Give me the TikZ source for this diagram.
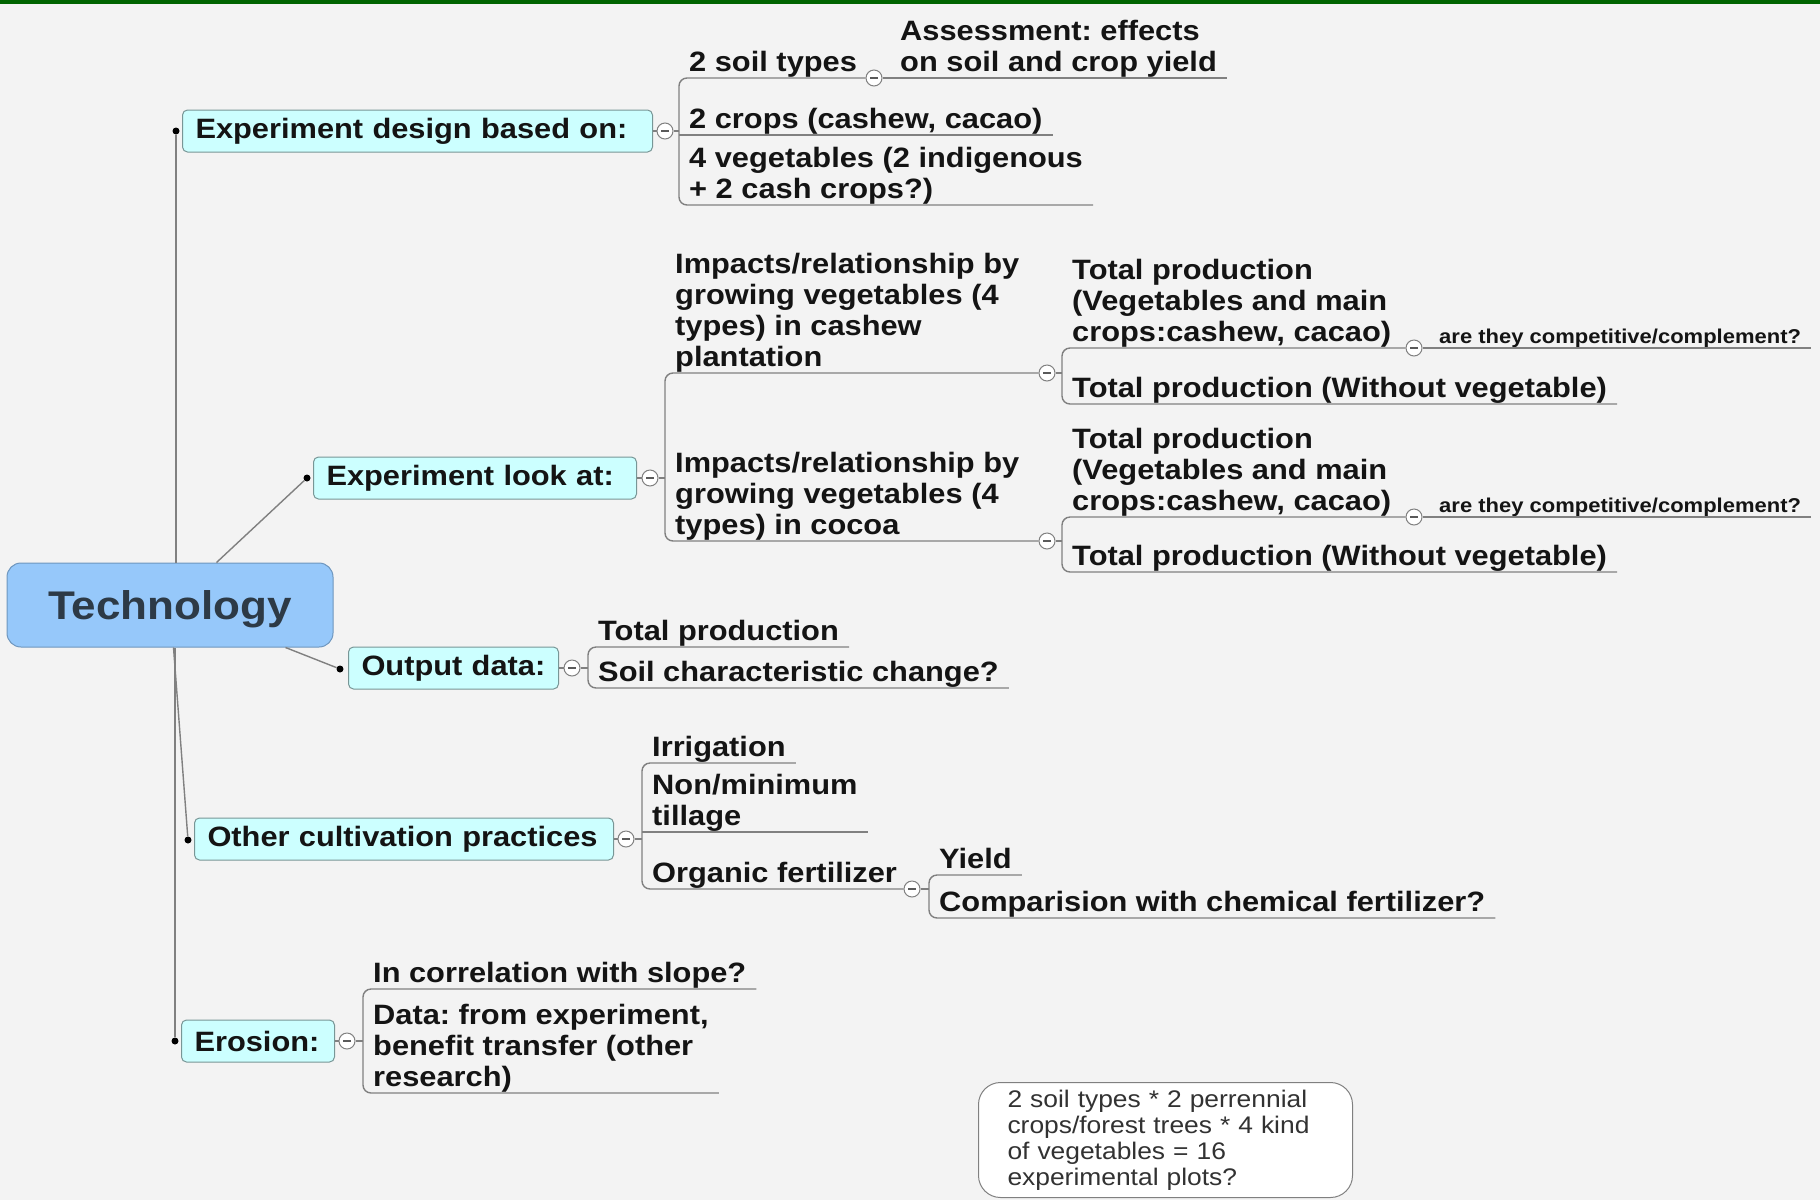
\documentclass[tikz,border=0pt]{standalone}
\usepackage{fontspec}
\setmainfont{Liberation Sans}
\newfontfamily\tfont{Liberation Sans}[FakeStretch=1.1]
\usetikzlibrary{calc}
\frenchspacing
\definecolor{bg}{RGB}{243,243,243}
\definecolor{topgreen}{RGB}{0,100,0}
\definecolor{lgray}{RGB}{128,128,128}
\definecolor{boxfill}{RGB}{204,255,255}
\definecolor{boxline}{RGB}{120,150,150}
\definecolor{rootfill}{RGB}{150,200,250}
\definecolor{rootline}{RGB}{110,150,190}
\definecolor{txt}{RGB}{20,20,20}
\definecolor{roottxt}{RGB}{45,58,70}
\definecolor{notetxt}{RGB}{50,50,50}
\tikzset{
  ln/.style={draw=lgray, line width=1.4pt},
  topic/.style={font=\tfont\bfseries\fontsize{28}{31}\selectfont, text=txt, align=left,
    anchor=south west, inner xsep=10pt, inner ysep=0pt,
    execute at end node={\rule[-6.5pt]{0pt}{6.5pt}}},
  smalltopic/.style={font=\tfont\bfseries\fontsize{20}{22}\selectfont, text=txt, align=left,
    anchor=south west, inner xsep=10pt, inner ysep=0pt,
    execute at end node={\rule[-4.5pt]{0pt}{4.5pt}}},
  mainbox/.style={draw=boxline, fill=boxfill, rounded corners=5pt, line width=1pt,
    anchor=west, minimum height=42pt, inner xsep=13pt, inner ysep=0pt, align=left,
    font=\tfont\bfseries\fontsize{28}{31}\selectfont, text=txt},
  rootbox/.style={draw=rootline, fill=rootfill, rounded corners=14pt, line width=1pt,
    minimum width=326pt, minimum height=84pt, inner sep=0pt,
    font=\tfont\bfseries\fontsize{40}{44}\selectfont, text=roottxt,
    text height=28.6pt, text depth=0pt},
  cbtn/.style={circle, draw=lgray, fill=white, line width=1pt, minimum size=16pt, inner sep=0pt,
    path picture={\draw[line width=1.2pt, lgray!70!black]
      ([xshift=-4pt]path picture bounding box.center) -- ([xshift=4pt]path picture bounding box.center);}},
  dot/.style={circle, fill=black, inner sep=0pt, minimum size=7pt},
  notebox/.style={draw=lgray, fill=white, rounded corners=22pt, line width=1pt,
    anchor=north west, text width=316pt, inner xsep=29pt, inner ysep=0pt,
    minimum height=115pt, align=left,
    font=\tfont\fontsize{24}{26}\selectfont, text=notetxt}
}
\begin{document}
\begin{tikzpicture}[x=1pt,y=-1pt]
\fill[bg] (0,0) rectangle (1820,1200);
\fill[topgreen] (0,0) rectangle (1820,4);

% root
\node[rootbox] (root) at (170,605) {Technology};

% level-1 boxes
\node[mainbox, text width=444pt] (ed) at (182,131) {\mbox{Experiment design based on:}};
\node[mainbox, text width=297pt] (ela) at (313,478) {\mbox{Experiment look at:}};
\node[mainbox, text width=184pt] (od) at (348,668) {\mbox{Output data:}};
\node[mainbox, text width=393pt] (oc) at (194,839) {\mbox{Other cultivation practices}};
\node[mainbox, text width=127pt] (er) at (181,1041) {\mbox{Erosion:}};

% bullets
\node[dot] (b_ed) at (176,131) {};
\node[dot] (b_ela) at (307,478) {};
\node[dot] (b_od) at (340,669) {};
\node[dot] (b_oc) at (188,840) {};
\node[dot] (b_er) at (175,1041) {};

% root connectors
\draw[ln] (b_ed) -- (b_ed |- root.north);
\draw[ln] ($(root.north west)+(210,0)$) -- (b_ela);
\draw[ln] ($(root.south west)+(279,0)$) -- (b_od);
\draw[ln] ($(root.south west)+(167,0)$) -- (b_oc);
\draw[ln] (b_er) -- (b_er |- root.south);

% collapse buttons
\node[cbtn] (c_ed) at (665,131) {};
\node[cbtn] (c_ela) at (650,478) {};
\node[cbtn] (c_od) at (572,668) {};
\node[cbtn] (c_oc) at (626,839) {};
\node[cbtn] (c_er) at (347,1041) {};
\node[cbtn] (c_soil) at (874,78) {};
\node[cbtn] (c_cash) at (1047,373) {};
\node[cbtn] (c_coc) at (1047,541) {};
\node[cbtn] (c_tp1) at (1414,348) {};
\node[cbtn] (c_tp2) at (1414,517) {};
\node[cbtn] (c_org) at (912,889) {};

\draw[ln] (ed.east) -- (c_ed.west);
\draw[ln] (ela.east) -- (c_ela.west);
\draw[ln] (od.east) -- (c_od.west);
\draw[ln] (oc.east) -- (c_oc.west);
\draw[ln] (er.east) -- (c_er.west);

% ---- Experiment design group
\node[topic] (soil) at (679,78) {2 soil types};
\node[topic] (assess) at (890,78) {Assessment: effects\\on soil and crop yield};
\node[topic] (crops) at (679,135) {2 crops (cashew, cacao)};
\node[topic] (veg) at (679,205) {4 vegetables (2 indigenous\\+ 2 cash crops?)};
\draw[ln, rounded corners=8pt] (c_soil.west) -- (soil.south west) -- (veg.south west) -- (veg.south east);
\draw[ln] (crops.south west) -- (crops.south east);
\draw[ln] (c_ed.east) -- (c_ed.east -| crops.south west);
\draw[ln] (c_soil.east) -- (assess.south east);

% ---- Experiment look at group
\node[topic] (cash) at (665,373) {Impacts/relationship by\\growing vegetables (4\\types) in cashew\\plantation};
\node[topic] (coc) at (665,541) {Impacts/relationship by\\growing vegetables (4\\types) in cocoa};
\draw[ln, rounded corners=8pt] (c_cash.west) -- (cash.south west) -- (coc.south west) -- (c_coc.west);
\draw[ln] (c_ela.east) -- (c_ela.east -| cash.south west);

% cashew children
\node[topic] (tp1) at (1062,348) {Total production\\(Vegetables and main\\crops:cashew, cacao)};
\node[topic] (tpw1) at (1062,404) {Total production (Without vegetable)};
\node[smalltopic] (comp1) at (1429,348) {are they competitive/complement?};
\draw[ln, rounded corners=8pt] (c_tp1.west) -- (tp1.south west) -- (tpw1.south west) -- (tpw1.south east);
\draw[ln] (c_cash.east) -- (c_cash.east -| tp1.south west);
\draw[ln] (c_tp1.east) -- (comp1.south east);

% cocoa children
\node[topic] (tp2) at (1062,517) {Total production\\(Vegetables and main\\crops:cashew, cacao)};
\node[topic] (tpw2) at (1062,572) {Total production (Without vegetable)};
\node[smalltopic] (comp2) at (1429,517) {are they competitive/complement?};
\draw[ln, rounded corners=8pt] (c_tp2.west) -- (tp2.south west) -- (tpw2.south west) -- (tpw2.south east);
\draw[ln] (c_coc.east) -- (c_coc.east -| tp2.south west);
\draw[ln] (c_tp2.east) -- (comp2.south east);

% ---- Output data group
\node[topic] (tprod) at (588,647) {Total production};
\node[topic] (soilchg) at (588,688) {Soil characteristic change?};
\draw[ln, rounded corners=8pt] (tprod.south east) -- (tprod.south west) -- (soilchg.south west) -- (soilchg.south east);
\draw[ln] (c_od.east) -- (c_od.east -| tprod.south west);

% ---- Other cultivation group
\node[topic] (irr) at (642,763) {Irrigation};
\node[topic] (till) at (642,832) {Non/minimum\\tillage};
\node[topic] (org) at (642,889) {Organic fertilizer};
\draw[ln, rounded corners=8pt] (irr.south east) -- (irr.south west) -- (org.south west) -- (c_org.west);
\draw[ln] (till.south west) -- (till.south east);
\draw[ln] (c_oc.east) -- (c_oc.east -| irr.south west);

\node[topic] (yield) at (929,875) {Yield};
\node[topic] (chem) at (929,918) {Comparision with chemical fertilizer?};
\draw[ln, rounded corners=8pt] (yield.south east) -- (yield.south west) -- (chem.south west) -- (chem.south east);
\draw[ln] (c_org.east) -- (c_org.east -| yield.south west);

% ---- Erosion group
\node[topic] (corr) at (363,989) {In correlation with slope?};
\node[topic] (data) at (363,1093) {Data: from experiment,\\benefit transfer (other\\research)};
\draw[ln, rounded corners=8pt] (corr.south east) -- (corr.south west) -- (data.south west) -- (data.south east);
\draw[ln] (c_er.east) -- (c_er.east -| corr.south west);

% ---- note
\node[notebox] (note) at (978,1082) {2 soil types * 2 perrennial\\crops/forest trees * 4 kind\\of vegetables = 16\\experimental plots?};
\end{tikzpicture}
\end{document}
